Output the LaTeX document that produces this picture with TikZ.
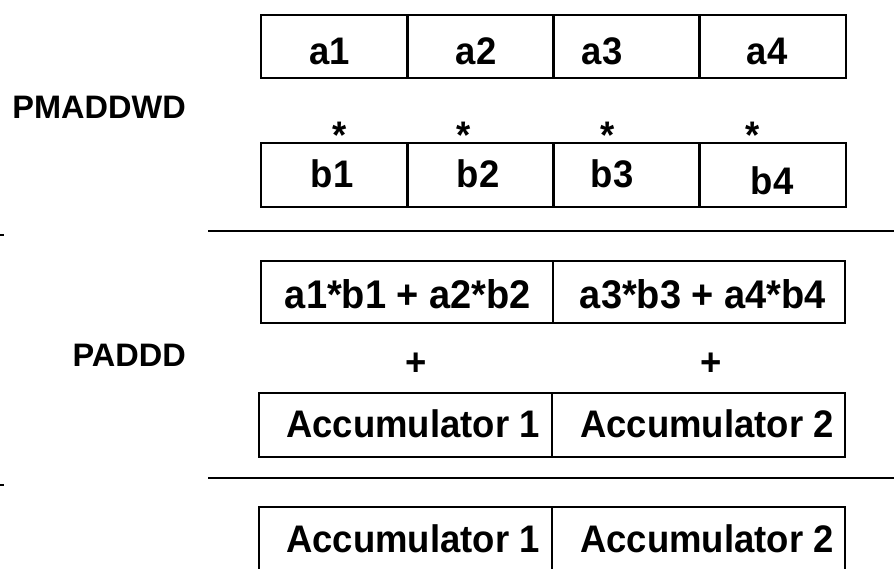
\documentclass[tikz,border=0pt]{standalone}
\usepackage{fontspec}
\setmainfont{Liberation Sans}
\newfontfamily\tallsans[FakeStretch=0.95]{Liberation Sans}
\tikzstyle{cell} = [rectangle, draw, line width=2.5pt, minimum width=146.25pt, minimum height=63pt, inner sep=0pt]
\tikzstyle{wide} = [rectangle, draw, line width=2pt, minimum width=292pt, minimum height=63pt, inner sep=0pt]
\tikzstyle{txt} = [inner sep=0pt, font=\tallsans\fontsize{38.4}{45}\selectfont\bfseries]
\tikzstyle{sumtxt} = [inner sep=0pt, font=\tallsans\fontsize{40}{47}\selectfont\bfseries]
\tikzstyle{instr} = [inner sep=0pt, anchor=east, font=\fontsize{32.5}{38}\selectfont\bfseries]
\tikzstyle{sepline} = [line width=2.5pt]

\begin{document}
\begin{tikzpicture}[x=1pt, y=-1pt]
            \useasboundingbox (0,0) rectangle (894,569);
            \clip (0,0) rectangle (894,569);

            % PMADDWD
            \node [instr] at (186,107) (pmaddwd) {PMADDWD};
            \node [cell] at (334.1,46.5) (ca1) {};
            \node [cell] at (480.4,46.5) (ca2) {};
            \node [cell] at (626.6,46.5) (ca3) {};
            \node [cell] at (772.9,46.5) (ca4) {};
            \node [txt] at (330,51) (a1) {a1};
            \node [txt] at (476,51) (a2) {a2};
            \node [txt] at (602,51) (a3) {a3};
            \node [txt] at (767,51) (a4) {a4};
            \node [txt] at (340,135) (m1) {*};
            \node [txt] at (464,135) (m2) {*};
            \node [txt] at (608,135) (m3) {*};
            \node [txt] at (753,135) (m4) {*};
            \node [cell, minimum height=64pt] at (334.1,175) (cb1) {};
            \node [cell, minimum height=64pt] at (480.4,175) (cb2) {};
            \node [cell, minimum height=64pt] at (626.6,175) (cb3) {};
            \node [cell, minimum height=64pt] at (772.9,175) (cb4) {};
            \node [txt] at (332,174) (b1) {b1};
            \node [txt] at (478,174) (b2) {b2};
            \node [txt] at (612,174) (b3) {b3};
            \node [txt] at (772,181) (b4) {b4};

            \coordinate (sep1l) at (208,231);
            \coordinate (sep1r) at (894,231);
            \coordinate (tick1l) at (0,235);
            \coordinate (tick1r) at (4,235);
            \draw [sepline] (sep1l) -- (sep1r);
            \draw [sepline] (tick1l) -- (tick1r);

            % PADDD
            \node [instr] at (186,355) (paddd) {PADDD};
            \node [wide, line width=2.5pt, minimum height=62pt] at (407,292) (sum1) {};
            \node [wide, line width=2.5pt, minimum height=62pt] at (699,292) (sum2) {};
            \node [sumtxt] at (408,294) (s1) {a1*b1 + a2*b2};
            \node [sumtxt] at (703,294) (s2) {a3*b3 + a4*b4};
            \node [txt] at (416,364) (p1) {+};
            \node [txt] at (711,364) (p2) {+};
            \node [wide, minimum width=293pt, minimum height=64pt] at (405.5,425) (acc1) {};
            \node [wide, minimum width=293pt, minimum height=64pt] at (698.5,425) (acc2) {};
            \node [txt] at (413,424) (t1) {Accumulator 1};
            \node [txt] at (707,424) (t2) {Accumulator 2};

            \coordinate (sep2l) at (208,478);
            \coordinate (sep2r) at (894,478);
            \coordinate (tick2l) at (0,485);
            \coordinate (tick2r) at (4,485);
            \draw [sepline] (sep2l) -- (sep2r);
            \draw [sepline] (tick2l) -- (tick2r);

            % result
            \node [wide, minimum width=293pt, minimum height=64pt] at (405.5,539) (res1) {};
            \node [wide, minimum width=293pt, minimum height=64pt] at (698.5,539) (res2) {};
            \node [txt] at (413,539) (r1) {Accumulator 1};
            \node [txt] at (707,539) (r2) {Accumulator 2};
\end{tikzpicture}
\end{document}
